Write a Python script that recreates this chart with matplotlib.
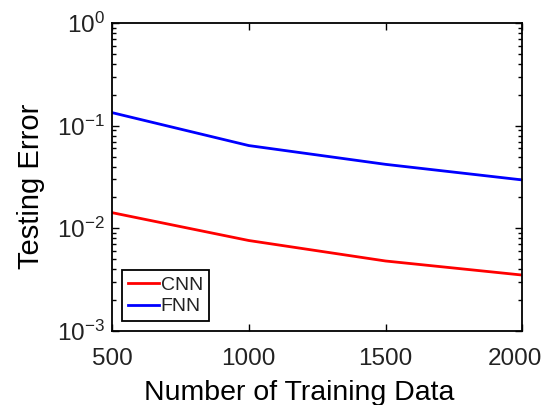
import matplotlib
matplotlib.use("Agg")
import matplotlib.pyplot as plt
from matplotlib.transforms import ScaledTranslation

# training set sizes and testing errors
n_train = [500, 1000, 1500, 2000]
cnn_err = [0.0142, 0.0076, 0.0048, 0.0035]
fnn_err = [0.134, 0.064, 0.042, 0.0296]

plt.rcParams['font.family'] = ['Liberation Sans', 'DejaVu Sans']
plt.rcParams['mathtext.fontset'] = 'custom'
plt.rcParams['mathtext.rm'] = 'Liberation Sans'
plt.rcParams['mathtext.it'] = 'Liberation Sans'
plt.rcParams['text.color'] = '#222222'

fig = plt.figure(figsize=(5.44, 4.05), dpi=100)
ax = fig.add_axes([0.206, 0.183, 0.754, 0.760])

ax.plot(n_train, cnn_err, color='red', lw=2, label='CNN')
ax.plot(n_train, fnn_err, color='blue', lw=2, label='FNN')

ax.set_yscale('log')
ax.set_xlim(500, 2000)
ax.set_ylim(1e-3, 1e0)
ax.set_xticks([500, 1000, 1500, 2000])
ax.tick_params(which='both', direction='in', top=True, right=True, labelsize=17.5,
               width=1, labelcolor='#222222')
ax.tick_params(which='major', length=5)
ax.tick_params(which='minor', length=3)
ax.tick_params(axis='x', pad=12)
ax.tick_params(axis='y', pad=5)
for s in ax.spines.values():
    s.set_linewidth(1.3)

# last x label sits a little left so it stays inside the figure
lbl = ax.get_xticklabels()[-1]
lbl.set_transform(lbl.get_transform() + ScaledTranslation(-7 / 100, 0, fig.dpi_scale_trans))

ax.set_xlabel("Number of Training Data", fontsize=20.5)
ax.set_ylabel("Testing Error", fontsize=21)
ax.xaxis.set_label_coords(0.456, -0.16)
ax.yaxis.set_label_coords(-0.164, 0.47)

leg = ax.legend(loc='lower left', fontsize=14, handlelength=1.6, fancybox=False,
                edgecolor='black', framealpha=1, borderpad=0.3, handletextpad=0.1,
                labelspacing=0.2, borderaxespad=0.5)
leg.get_frame().set_linewidth(1.3)

fig.savefig("out.png", dpi=100)
